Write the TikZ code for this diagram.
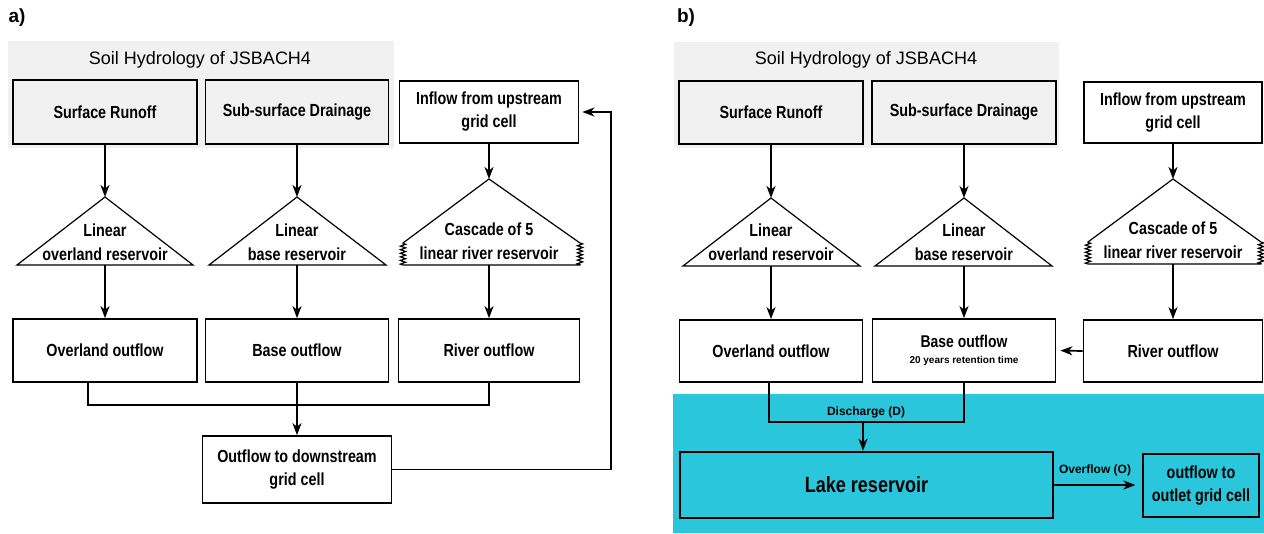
\documentclass[tikz,border=0pt]{standalone}
\usepackage{fontspec}
\setmainfont{Liberation Sans}
\newfontfamily\boxfont[FakeStretch=0.82]{Liberation Sans}
\usetikzlibrary{arrows.meta,decorations.pathmorphing}
\definecolor{soilgray}{HTML}{F1F1F1}
\definecolor{lakecyan}{HTML}{29C6DC}
\begin{document}
\begin{tikzpicture}[x=1pt,y=-1pt,
  lw/.style={line width=1.7pt},
  bx/.style={draw,lw,rectangle,inner sep=0pt,fill=white,align=center,
    font=\boxfont\bfseries\fontsize{17.5}{23}\selectfont},
  graybx/.style={bx,fill=soilgray},
  arr/.style={lw,-{Stealth[length=12pt,width=9pt,inset=3.5pt]}},
  ln/.style={lw},
  tri/.style={draw,line width=1.2pt,fill=white,line join=miter},
  zz/.style={decoration={zigzag,segment length=3.6pt,amplitude=2.6pt}},
  ttext/.style={align=center,inner sep=0pt,font=\boxfont\bfseries\fontsize{17.5}{24}\selectfont},
  title/.style={font=\fontsize{18}{22}\selectfont},
  panel/.style={font=\bfseries\fontsize{19}{22}\selectfont},
  small/.style={font=\bfseries\fontsize{12}{14}\selectfont,inner sep=1pt}
]
\useasboundingbox (0,0) rectangle (1264,533);
% backgrounds
\fill[soilgray] (8,41) rectangle (394,148);
\fill[soilgray] (674,42) rectangle (1059,148);
\fill[lakecyan] (673,394) rectangle (1264,533);

\node[panel] (pa) at (17,18) {a)};
\node[panel] (pb) at (686,18) {b)};
\node[title] (tia) at (200,60) {Soil Hydrology of JSBACH4};
\node[title] (tib) at (866,60) {Soil Hydrology of JSBACH4};

% ---------------- panel a ----------------
\node[graybx,minimum width=184pt,minimum height=64pt] (sra) at (105,112) {Surface Runoff};
\node[graybx,minimum width=183pt,minimum height=64pt] (sda) at (297,112) {Sub-surface Drainage};
\node[bx,minimum width=179pt,minimum height=62pt] (ina) at (489,112) {Inflow from upstream\\grid cell};

\draw[tri] (17,265) -- (105,197) -- (193,265) -- cycle;
\coordinate (t1atop) at (105,197); \coordinate (t1abot) at (105,265);
\node[ttext] (t1atx) at (105,242) {Linear\\overland reservoir};

\draw[tri] (209,265) -- (297,197) -- (386,265) -- cycle;
\coordinate (t2atop) at (297,197); \coordinate (t2abot) at (297,265);
\node[ttext] (t2atx) at (297,242) {Linear\\base reservoir};

\draw[tri] (489,179) -- (580,243) decorate[zz]{-- (580,265)} -- (403,265) decorate[zz]{-- (403,243)} -- cycle;
\coordinate (t3atop) at (489,179); \coordinate (t3abot) at (489,265);
\node[ttext] (t3atx) at (489,241.5) {Cascade of 5\\linear river reservoir};

\node[bx,minimum width=184pt,minimum height=63pt] (ova) at (105,350.5) {Overland outflow};
\node[bx,minimum width=183pt,minimum height=63pt] (baa) at (297,350.5) {Base outflow};
\node[bx,minimum width=181pt,minimum height=63pt] (rva) at (489,350.5) {River outflow};
\node[bx,minimum width=189pt,minimum height=67pt] (outa) at (297,469.5) {Outflow to downstream\\grid cell};

\draw[arr] (sra.south) -- (t1atop);
\draw[arr] (sda.south) -- (t2atop);
\draw[arr] (ina.south) -- (t3atop);
\draw[arr] (t1abot) -- (ova.north);
\draw[arr] (t2abot) -- (baa.north);
\draw[arr] (t3abot) -- (rva.north);
\coordinate (ja) at (88,405);
\draw[ln] (ova.south -| ja) -- (ja) -| (rva.south);
\draw[arr] (baa.south) -- (outa.north);
\coordinate (ra) at (611,468);
\draw[arr,shorten >=3pt] (outa.east) -- (outa.east -| ra) |- (ina.east);

% ---------------- panel b ----------------
\node[graybx,minimum width=184pt,minimum height=63pt] (srb) at (771,112.5) {Surface Runoff};
\node[graybx,minimum width=184pt,minimum height=63pt] (sdb) at (964,112.5) {Sub-surface Drainage};
\node[bx,minimum width=178pt,minimum height=61pt] (inb) at (1173,112.5) {Inflow from upstream\\grid cell};

\draw[tri] (683,266) -- (771,198) -- (860,266) -- cycle;
\coordinate (t1btop) at (771,198); \coordinate (t1bbot) at (771,266);
\node[ttext] (t1btx) at (771,242) {Linear\\overland reservoir};

\draw[tri] (875,266) -- (964,198) -- (1052,266) -- cycle;
\coordinate (t2btop) at (964,198); \coordinate (t2bbot) at (964,266);
\node[ttext] (t2btx) at (964,242) {Linear\\base reservoir};

\draw[tri] (1173,179) -- (1261,242) decorate[zz]{-- (1261,264)} -- (1088,264) decorate[zz]{-- (1088,242)} -- cycle;
\coordinate (t3btop) at (1173,179); \coordinate (t3bbot) at (1173,264);
\node[ttext] (t3btx) at (1173,240.5) {Cascade of 5\\linear river reservoir};

\node[bx,minimum width=183pt,minimum height=62pt] (ovb) at (771,351) {Overland outflow};
\node[bx,minimum width=183pt,minimum height=63pt] (bab) at (964,350.5)
  {{\fontsize{17}{18}\selectfont Base outflow}\\[-7pt]{\rmfamily\bfseries\fontsize{10}{12}\selectfont 20 years retention time}};
\node[bx,minimum width=179pt,minimum height=62pt] (rvb) at (1173,351) {River outflow};

\draw[arr] (srb.south) -- (t1btop);
\draw[arr] (sdb.south) -- (t2btop);
\draw[arr] (inb.south) -- (t3btop);
\draw[arr] (t1bbot) -- (ovb.north);
\draw[arr] (t2bbot) -- (bab.north);
\draw[arr] (t3bbot) -- (rvb.north);
\draw[arr,shorten >=4pt] (rvb.west) -- (bab.east);

\node[bx,fill=lakecyan,line width=2.6pt,minimum width=373pt,minimum height=66pt,
  font=\boxfont\bfseries\fontsize{22}{26}\selectfont] (lake) at (866.5,485) {Lake reservoir};
\node[bx,fill=lakecyan,line width=1.2pt,minimum width=116pt,minimum height=63pt] (outl) at (1201,485.5) {outflow to\\outlet grid cell};

\coordinate (jb) at (769,422);
\draw[ln] (ovb.south -| jb) -- (jb) -| (bab.south);
\coordinate (db) at (863,422);
\draw[arr] (db) -- (db |- lake.north);
\node[small] (dlab) at (866,412) {Discharge (D)};
\draw[arr,shorten >=7pt] (lake.east) -- (lake.east -| outl.west);
\node[small] (olab) at (1095,470) {Overflow (O)};
\end{tikzpicture}
\end{document}
